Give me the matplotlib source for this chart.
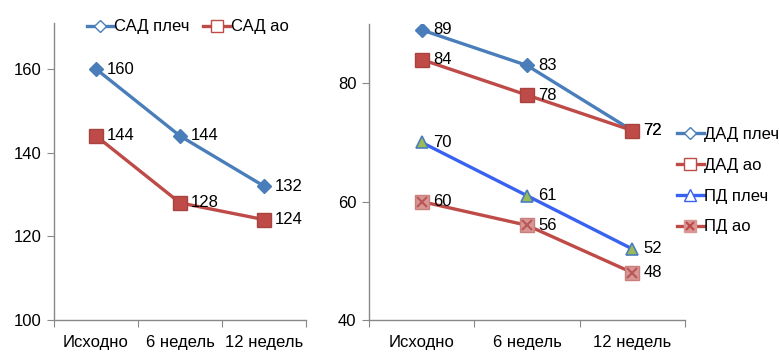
import matplotlib.pyplot as plt
from matplotlib.lines import Line2D
from matplotlib.legend_handler import HandlerTuple

plt.rcParams['font.family'] = ['Liberation Sans', 'DejaVu Sans']
plt.rcParams['font.size'] = 12

periods = ['Исходно', '6 недель', '12 недель']

sad_brach = [160, 144, 132]
sad_aorta = [144, 128, 124]

dad_brach = [89, 83, 72]
dad_aorta = [84, 78, 72]
pd_brach = [70, 61, 52]
pd_aorta = [60, 56, 48]

BLUE = '#4A7EBB'
RED = '#BE4B48'
BRIGHT = '#3A62F0'
GREEN = '#9BBB59'
PINK = '#D99694'
AXIS = '#888888'

fig = plt.figure(figsize=(7.79, 3.54), dpi=100)
ax1 = fig.add_axes([54 / 779, 34 / 354, 252 / 779, 297 / 354])
ax2 = fig.add_axes([369 / 779, 34 / 354, 316 / 779, 296 / 354])


def style_axis(ax, lo, hi, step):
    x = range(len(periods))
    ax.set_xlim(-0.5, len(periods) - 0.5)
    ax.set_ylim(lo, hi)
    ax.set_yticks(range(lo, hi, step))
    ax.set_xticks([i - 0.5 for i in range(len(periods) + 1)])
    ax.set_xticklabels([])
    ax.set_xticks(list(x), minor=True)
    ax.set_xticklabels(periods, minor=True)
    ax.tick_params(axis='x', which='major', length=5, color=AXIS, direction='out')
    ax.tick_params(axis='x', which='minor', length=0, pad=11)
    ax.tick_params(axis='y', length=5, color=AXIS, direction='out', pad=4)
    for s in ('top', 'right'):
        ax.spines[s].set_visible(False)
    for s in ('left', 'bottom'):
        ax.spines[s].set_color(AXIS)
        ax.spines[s].set_linewidth(1.0)


def labels(ax, ys, dx=8):
    for i, v in enumerate(ys):
        ax.annotate(str(v), (i, v), xytext=(dx, 0), textcoords='offset points',
                    ha='left', va='center')


x = range(len(periods))

# systolic
ax1.plot(x, sad_brach, color=BLUE, lw=2.4, marker='D', ms=7,
         mfc=BLUE, mec=BLUE, zorder=3)
ax1.plot(x, sad_aorta, color=RED, lw=2.4, marker='s', ms=10,
         mfc=RED, mec='#A84340', zorder=3)
labels(ax1, sad_brach)
labels(ax1, sad_aorta)
style_axis(ax1, 100, 171, 20)

h1 = [Line2D([], [], color=BLUE, lw=2.4, marker='D', ms=6, mfc='white', mec=BLUE),
      Line2D([], [], color=RED, lw=2.4, marker='s', ms=8, mfc='white', mec=RED)]
fig.legend(h1, ['САД плеч', 'САД ао'], loc='center left',
           bbox_to_anchor=(87 / 779, 1 - 27 / 354), ncol=2, frameon=False,
           handlelength=1.6, handletextpad=0.05, columnspacing=0.8,
           borderaxespad=0, borderpad=0)

# diastolic and pulse
ax2.plot(x, dad_brach, color=BLUE, lw=2.4, marker='D', ms=7,
         mfc=BLUE, mec=BLUE, zorder=3)
ax2.plot(x, dad_aorta, color=RED, lw=2.4, marker='s', ms=10,
         mfc=RED, mec='#A84340', zorder=3)
ax2.plot(x, pd_brach, color=BRIGHT, lw=2.4, marker='^', ms=9,
         mfc=GREEN, mec=BLUE, mew=1.2, zorder=3)
ax2.plot(x, pd_aorta, color=RED, lw=2.4, marker='s', ms=10,
         mfc=PINK, mec='#C9807D', zorder=3)
ax2.plot(x, pd_aorta, ls='none', marker='x', ms=7, mew=1.6,
         mec='#B85A58', zorder=4)
labels(ax2, dad_brach)
labels(ax2, dad_aorta)
labels(ax2, pd_brach)
labels(ax2, pd_aorta)
style_axis(ax2, 40, 90, 20)

h2 = [Line2D([], [], color=BLUE, lw=2.4, marker='D', ms=6, mfc='white', mec=BLUE),
      Line2D([], [], color=RED, lw=2.4, marker='s', ms=8, mfc='white', mec=RED),
      Line2D([], [], color=BRIGHT, lw=2.4, marker='^', ms=8, mfc='white', mec=BRIGHT),
      (Line2D([], [], color=RED, lw=2.4, marker='s', ms=8, mfc=PINK, mec=PINK),
       Line2D([], [], ls='none', marker='x', ms=6, mew=1.5, mec=RED))]
fig.legend(h2, ['ДАД плеч', 'ДАД ао', 'ПД плеч', 'ПД ао'], loc='upper left',
           bbox_to_anchor=(677 / 779, 1 - 127 / 354), frameon=False,
           handlelength=1.6, handletextpad=0.05, labelspacing=0.95,
           borderaxespad=0, borderpad=0,
           handler_map={tuple: HandlerTuple(ndivide=1)})

fig.savefig('out.png', dpi=100)
